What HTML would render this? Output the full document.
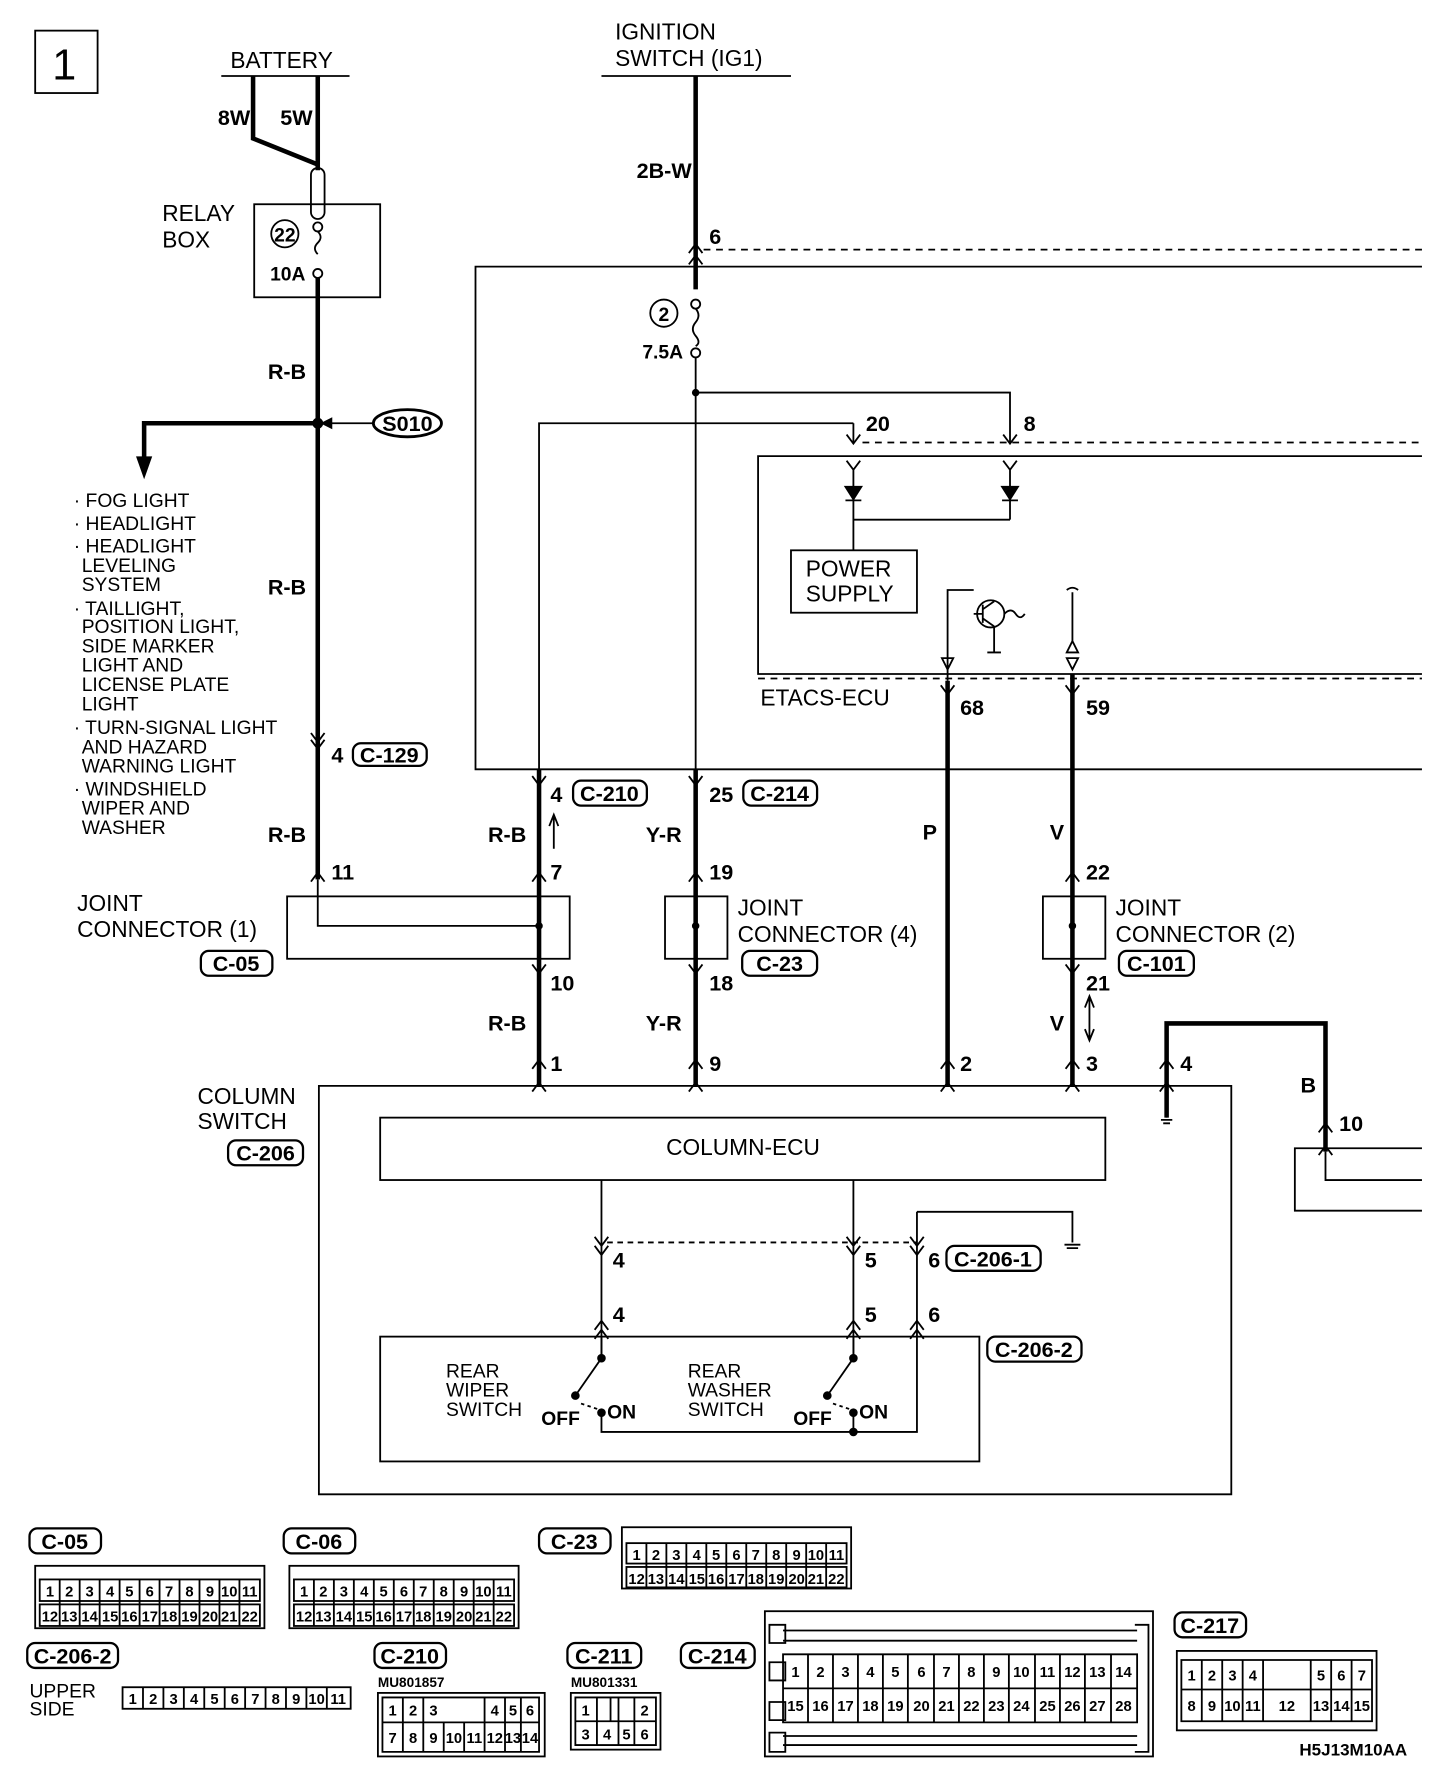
<!DOCTYPE html>
<html><head><meta charset="utf-8"><style>
html,body{margin:0;padding:0;background:#fff}
svg{display:block}
text{font-family:"Liberation Sans",sans-serif;fill:#000}
.b{font-weight:bold}
.t{font-size:20px}
.w{font-size:19px;font-weight:bold}
.s{font-size:17px}
.c{font-size:13px;font-weight:bold;text-anchor:middle}
</style></head><body>
<svg width="1456" height="1778" viewBox="0 0 1283 1567" preserveAspectRatio="none" xmlns="http://www.w3.org/2000/svg">
<g fill="none" stroke="#000" stroke-width="1.6">
<rect x="31" y="27" width="55" height="55"/>
<line x1="195" y1="67" x2="308" y2="67"/>
<line x1="530" y1="67" x2="697" y2="67"/>
<path d="M223,67 V122 L280,145 M280,67 V150" stroke-width="4"/>
<rect x="224" y="180" width="111" height="82"/>
<rect x="274" y="148" width="12" height="45" rx="6"/>
<circle cx="280" cy="200" r="4"/><path d="M280,204 q5,5 0,10 q-5,5 0,10"/><circle cx="280" cy="241" r="4"/>
<circle cx="251" cy="206" r="12"/>
<path d="M280,245 V775" stroke-width="4"/>
<path d="M280,373 H127 V405" stroke-width="4"/>
<path d="M121,403 L127,420 L133,403Z" fill="#000"/>
<ellipse cx="359" cy="373" rx="30" ry="12" stroke-width="2.5"/>
<path d="M329,373 H287"/><path d="M292,369 L284,373 L292,377Z" fill="#000"/>
<path d="M613,67 V255" stroke-width="4"/>
<path d="M620,220 H1253" stroke-dasharray="6,5"/>
<path d="M1253,235 H419 V678 H1253"/>
<circle cx="585" cy="276" r="12"/>
<circle cx="613" cy="268" r="4"/><path d="M613,272 q5,6 0,12 q-5,6 0,12 q5,6 0,9"/><circle cx="613" cy="311" r="4"/>
<path d="M613,315 V678"/>
<path d="M613,346 H890 V390 M752,373 H475 V678"/>
<path d="M752,373 V390"/>
<path d="M760,390 H1253" stroke-dasharray="6,5"/>
<path d="M1253,402 H668 V594 H1253"/>
<path d="M668,598 H1253" stroke-dasharray="6,5"/>
<path d="M746,406 L752,414 L758,406 M752,414 V458 M884,406 L890,414 L896,406 M890,414 V458 M752,458 H890 M752,458 V485"/>
<path d="M745,429 H759 L752,440Z M883,429 H897 L890,440Z" fill="#000"/>
<path d="M745,441 H759 M883,441 H897"/>
<rect x="697" y="485" width="111" height="55"/>
<path d="M835,600 V520 H858"/><circle cx="873" cy="541" r="12"/>
<path d="M866,533 V549 M858,541 H866 M866,537 L876,530 M866,545 L876,552 M885,541 q6,-6 10,0 q4,6 8,0"/>
<path d="M876,552 V575 M870,575 H882 M830,580 L835,590 L840,580Z M940,520 q5,-4 10,0 M945,522 V565 M940,575 L945,565 L950,575Z M940,580 L945,590 L950,580Z"/>
<path d="M835,600 V958 M945,594 V958 M475,678 V958 M613,678 V958" stroke-width="4"/>
<path d="M280,775 V816 H475"/>
<rect x="253" y="790" width="249" height="55"/>
<rect x="586" y="790" width="55" height="55"/>
<rect x="919" y="790" width="55" height="55"/>
<path d="M488,748 V720 M484,728 L488,718 L492,728"/>
<path d="M960,880 V915 M956,888 L960,878 L964,888 M956,907 L960,917 L964,907"/>
<path d="M274,646 L280,654 L286,646 M274,652 L280,660 L286,652 M607,223 L613,215 L619,223 M607,233 L613,225 L619,233 M469,684 L475,692 L481,684 M607,684 L613,692 L619,684 M829,604 L835,612 L841,604 M939,604 L945,612 L951,604 M746,383 L752,391 L758,383 M884,383 L890,391 L896,383 M469,777 L475,769 L481,777 M274,777 L280,769 L286,777 M607,777 L613,769 L619,777 M939,777 L945,769 L951,777 M469,850 L475,858 L481,850 M607,850 L613,858 L619,850 M939,850 L945,858 L951,850 M469,942 L475,934 L481,942 M607,942 L613,934 L619,942 M829,942 L835,934 L841,942 M939,942 L945,934 L951,942 M469,962 L475,954 L481,962 M607,962 L613,954 L619,962 M829,962 L835,954 L841,962 M939,962 L945,954 L951,962 M1022,942 L1028,934 L1034,942 M1022,962 L1028,954 L1034,962 M1162,998 L1168,990 L1174,998 M1162,1018 L1168,1010 L1174,1018"/>
<circle cx="475" cy="816" r="2.5" fill="#000"/><circle cx="613" cy="816" r="2.5" fill="#000"/><circle cx="945" cy="816" r="2.5" fill="#000"/>
<circle cx="280" cy="373" r="4" fill="#000"/><circle cx="613" cy="346" r="2.5" fill="#000"/>
<path d="M281,957 H1085 V1317 H281Z"/>
<rect x="335" y="985" width="639" height="55"/>
<path d="M1028,985 V902 H1168 V1015" stroke-width="4"/>
<path d="M1028,985 V955"/><path d="M1023,987 H1033 M1025,990 H1031"/>
<path d="M1253,1012 H1141 V1067 H1253 M1253,1040 H1168 V1015"/>
<path d="M530,1040 V1200 M752,1040 V1200 M808,1068 H945 V1095 M808,1068 V1262 H530 V1248"/>
<path d="M938,1097 H952 M940,1100 H950"/>
<path d="M535,1095 H808" stroke-dasharray="5,4"/>
<path d="M524,1090 L530,1098 L536,1090 M524,1098 L530,1106 L536,1098 M746,1090 L752,1098 L758,1090 M746,1098 L752,1106 L758,1098 M802,1090 L808,1098 L814,1090 M802,1098 L808,1106 L814,1098 M524,1172 L530,1164 L536,1172 M524,1180 L530,1172 L536,1180 M746,1172 L752,1164 L758,1172 M746,1180 L752,1172 L758,1180 M802,1172 L808,1164 L814,1172 M802,1180 L808,1172 L814,1180"/>
<rect x="335" y="1178" width="528" height="110"/>
<path d="M530,1178 V1197 L507,1230 M752,1178 V1197 L729,1230 M752,1248 V1262"/>
<path d="M512,1237 L530,1243 M734,1237 L752,1243" stroke-dasharray="3,3"/>
<circle cx="530" cy="1197" r="3" fill="#000"/><circle cx="507" cy="1230" r="3" fill="#000"/><circle cx="530" cy="1245" r="3" fill="#000"/>
<circle cx="752" cy="1197" r="3" fill="#000"/><circle cx="729" cy="1230" r="3" fill="#000"/><circle cx="752" cy="1245" r="3" fill="#000"/><circle cx="752" cy="1262" r="3" fill="#000"/>
<g stroke-width="2">
<rect x="311" y="655" width="65" height="20" rx="7"/>
<rect x="505" y="688" width="65" height="22" rx="7"/>
<rect x="655" y="688" width="65" height="22" rx="7"/>
<rect x="177" y="838" width="63" height="22" rx="7"/>
<rect x="654" y="838" width="66" height="22" rx="7"/>
<rect x="986" y="838" width="66" height="22" rx="7"/>
<rect x="201" y="1005" width="66" height="22" rx="7"/>
<rect x="834" y="1098" width="83" height="22" rx="7"/>
<rect x="870" y="1178" width="83" height="22" rx="7"/>
<rect x="26" y="1347" width="63" height="22" rx="7"/>
<rect x="250" y="1347" width="63" height="22" rx="7"/>
<rect x="475" y="1347" width="63" height="22" rx="7"/>
<rect x="24" y="1448" width="80" height="22" rx="7"/>
<rect x="330" y="1448" width="63" height="22" rx="7"/>
<rect x="500" y="1448" width="65" height="22" rx="7"/>
<rect x="600" y="1448" width="65" height="22" rx="7"/>
<rect x="1035" y="1421" width="63" height="22" rx="7"/>
</g>
<rect x="31" y="1380" width="202" height="55"/><rect x="35" y="1392" width="194" height="19"/><rect x="35" y="1414" width="194" height="19"/>
<path d="M52.6,1392V1433M70.2,1392V1433M87.8,1392V1433M105.4,1392V1433M123,1392V1433M140.6,1392V1433M158.2,1392V1433M175.8,1392V1433M193.4,1392V1433M211,1392V1433"/>
<rect x="255" y="1380" width="202" height="55"/><rect x="259" y="1392" width="194" height="19"/><rect x="259" y="1414" width="194" height="19"/>
<path d="M276.6,1392V1433M294.2,1392V1433M311.8,1392V1433M329.4,1392V1433M347,1392V1433M364.6,1392V1433M382.2,1392V1433M399.8,1392V1433M417.4,1392V1433M435,1392V1433"/>
<rect x="548" y="1346" width="202" height="54"/><rect x="552" y="1360" width="194" height="18"/><rect x="552" y="1381" width="194" height="18"/>
<path d="M569.6,1360V1399M587.2,1360V1399M604.8,1360V1399M622.4,1360V1399M640,1360V1399M657.6,1360V1399M675.2,1360V1399M692.8,1360V1399M710.4,1360V1399M728,1360V1399"/>
<rect x="108" y="1487" width="201" height="19"/>
<path d="M126,1487V1506M144,1487V1506M162,1487V1506M180,1487V1506M198,1487V1506M216,1487V1506M234,1487V1506M252,1487V1506M270,1487V1506M288,1487V1506"/>
<rect x="333" y="1492" width="147" height="56"/><path d="M337,1496H475V1544H337Z M337,1518H475 M355,1496V1544 M373,1496V1544 M391,1518V1544 M409,1518V1544 M427,1496V1544 M445,1496V1544 M459,1496V1544"/>
<rect x="503" y="1492" width="79" height="50"/><path d="M507,1496H578V1538H507Z M507,1517H578 M526,1517V1538 M545,1517V1538 M559,1496V1538 M526,1496V1517 M538,1496V1517 M545,1496V1517"/>
<rect x="674" y="1420" width="342" height="128"/>
<path d="M690,1458H1002V1518H690Z M690,1488H1002 M712,1458V1518M734,1458V1518M756,1458V1518M778,1458V1518M800,1458V1518M823,1458V1518M845,1458V1518M867,1458V1518M889,1458V1518M912,1458V1518M934,1458V1518M956,1458V1518M979,1458V1518"/>
<path d="M690,1437H1002 M690,1446H1002 M690,1530H1002 M690,1538H1002 M678,1432H692V1448H678Z M678,1465H692V1481H678Z M678,1500H692V1516H678Z M678,1527H692V1544H678Z M1000,1432H1012V1544H1000"/>
<rect x="1037" y="1455" width="176" height="70"/><path d="M1041,1463H1209V1517H1041Z M1041,1489H1209 M1059,1463V1517 M1077,1463V1517 M1095,1463V1517 M1113,1463V1517 M1155,1463V1517 M1173,1463V1517 M1191,1463V1517"/>
</g>
<text x="46" y="70" style="font-size:38px">1</text>
<text x="203" y="60" class="t">BATTERY</text>
<text x="542" y="35" class="t">IGNITION</text>
<text x="542" y="58" class="t">SWITCH (IG1)</text>
<text x="192" y="110" class="w">8W</text><text x="247" y="110" class="w">5W</text>
<text x="143" y="195" class="t">RELAY</text><text x="143" y="218" class="t">BOX</text>
<text x="251" y="213" class="s b" text-anchor="middle">22</text>
<text x="238" y="247" class="s b">10A</text>
<text x="561" y="157" class="w">2B-W</text>
<text x="625" y="215" class="w">6</text>
<text x="585" y="283" class="s b" text-anchor="middle">2</text>
<text x="566" y="316" class="s b">7.5A</text>
<text x="236" y="334" class="w">R-B</text><text x="236" y="524" class="w">R-B</text><text x="236" y="742" class="w">R-B</text>
<text x="359" y="380" class="w" text-anchor="middle">S010</text>
<g class="s"><text x="65" y="447">· FOG LIGHT</text><text x="65" y="467">· HEADLIGHT</text><text x="65" y="487">· HEADLIGHT</text><text x="72" y="504">LEVELING</text><text x="72" y="521">SYSTEM</text><text x="65" y="542">· TAILLIGHT,</text><text x="72" y="558">POSITION LIGHT,</text><text x="72" y="575">SIDE MARKER</text><text x="72" y="592">LIGHT AND</text><text x="72" y="609">LICENSE PLATE</text><text x="72" y="626">LIGHT</text><text x="65" y="647">· TURN-SIGNAL LIGHT</text><text x="72" y="664">AND HAZARD</text><text x="72" y="681">WARNING LIGHT</text><text x="65" y="701">· WINDSHIELD</text><text x="72" y="718">WIPER AND</text><text x="72" y="735">WASHER</text></g>
<text x="292" y="672" class="w">4</text><text x="343" y="672" class="w" text-anchor="middle">C-129</text>
<text x="763" y="380" class="w">20</text><text x="902" y="380" class="w">8</text>
<text x="710" y="508" class="t">POWER</text><text x="710" y="530" class="t">SUPPLY</text>
<text x="670" y="622" class="t">ETACS-ECU</text>
<text x="846" y="630" class="w">68</text><text x="957" y="630" class="w">59</text>
<text x="485" y="707" class="w">4</text><text x="537" y="706" class="w" text-anchor="middle">C-210</text>
<text x="625" y="707" class="w">25</text><text x="687" y="706" class="w" text-anchor="middle">C-214</text>
<text x="430" y="742" class="w">R-B</text><text x="569" y="742" class="w">Y-R</text><text x="813" y="740" class="w">P</text><text x="925" y="740" class="w">V</text>
<text x="292" y="775" class="w">11</text><text x="485" y="775" class="w">7</text><text x="625" y="775" class="w">19</text><text x="957" y="775" class="w">22</text>
<text x="68" y="803" class="t">JOINT</text><text x="68" y="826" class="t">CONNECTOR (1)</text>
<text x="208" y="856" class="w" text-anchor="middle">C-05</text>
<text x="650" y="807" class="t">JOINT</text><text x="650" y="830" class="t">CONNECTOR (4)</text>
<text x="687" y="856" class="w" text-anchor="middle">C-23</text>
<text x="983" y="807" class="t">JOINT</text><text x="983" y="830" class="t">CONNECTOR (2)</text>
<text x="1019" y="856" class="w" text-anchor="middle">C-101</text>
<text x="485" y="873" class="w">10</text><text x="625" y="873" class="w">18</text><text x="957" y="873" class="w">21</text>
<text x="430" y="908" class="w">R-B</text><text x="569" y="908" class="w">Y-R</text><text x="925" y="908" class="w">V</text>
<text x="485" y="944" class="w">1</text><text x="625" y="944" class="w">9</text><text x="846" y="944" class="w">2</text><text x="957" y="944" class="w">3</text><text x="1040" y="944" class="w">4</text>
<text x="1146" y="963" class="w">B</text><text x="1180" y="997" class="w">10</text>
<text x="174" y="973" class="t">COLUMN</text><text x="174" y="995" class="t">SWITCH</text>
<text x="234" y="1023" class="w" text-anchor="middle">C-206</text>
<text x="587" y="1018" class="t">COLUMN-ECU</text>
<text x="540" y="1117" class="w">4</text><text x="762" y="1117" class="w">5</text><text x="818" y="1117" class="w">6</text>
<text x="875" y="1116" class="w" text-anchor="middle">C-206-1</text>
<text x="540" y="1165" class="w">4</text><text x="762" y="1165" class="w">5</text><text x="818" y="1165" class="w">6</text>
<text x="911" y="1196" class="w" text-anchor="middle">C-206-2</text>
<g class="s"><text x="393" y="1214">REAR</text><text x="393" y="1231">WIPER</text><text x="393" y="1248">SWITCH</text><text x="606" y="1214">REAR</text><text x="606" y="1231">WASHER</text><text x="606" y="1248">SWITCH</text></g>
<text x="477" y="1256" class="s b">OFF</text><text x="535" y="1250" class="s b">ON</text>
<text x="699" y="1256" class="s b">OFF</text><text x="757" y="1250" class="s b">ON</text>
<text x="57" y="1365" class="w" text-anchor="middle">C-05</text><text x="281" y="1365" class="w" text-anchor="middle">C-06</text><text x="506" y="1365" class="w" text-anchor="middle">C-23</text>
<text x="64" y="1466" class="w" text-anchor="middle">C-206-2</text><text x="361" y="1466" class="w" text-anchor="middle">C-210</text><text x="532" y="1466" class="w" text-anchor="middle">C-211</text><text x="632" y="1466" class="w" text-anchor="middle">C-214</text><text x="1066" y="1439" class="w" text-anchor="middle">C-217</text>
<text x="26" y="1496" class="s">UPPER</text><text x="26" y="1512" class="s">SIDE</text>
<text x="333" y="1487" style="font-size:12px;font-weight:bold">MU801857</text><text x="503" y="1487" style="font-size:12px;font-weight:bold">MU801331</text>
<text x="1145" y="1547" style="font-size:15px;font-weight:bold">H5J13M10AA</text>
<g class="c">
<text x="44" y="1407">1</text><text x="61" y="1407">2</text><text x="79" y="1407">3</text><text x="97" y="1407">4</text><text x="114" y="1407">5</text><text x="132" y="1407">6</text><text x="149" y="1407">7</text><text x="167" y="1407">8</text><text x="185" y="1407">9</text><text x="202" y="1407">10</text><text x="220" y="1407">11</text>
<text x="44" y="1429">12</text><text x="61" y="1429">13</text><text x="79" y="1429">14</text><text x="97" y="1429">15</text><text x="114" y="1429">16</text><text x="132" y="1429">17</text><text x="149" y="1429">18</text><text x="167" y="1429">19</text><text x="185" y="1429">20</text><text x="202" y="1429">21</text><text x="220" y="1429">22</text>
<text x="268" y="1407">1</text><text x="285" y="1407">2</text><text x="303" y="1407">3</text><text x="321" y="1407">4</text><text x="338" y="1407">5</text><text x="356" y="1407">6</text><text x="373" y="1407">7</text><text x="391" y="1407">8</text><text x="409" y="1407">9</text><text x="426" y="1407">10</text><text x="444" y="1407">11</text>
<text x="268" y="1429">12</text><text x="285" y="1429">13</text><text x="303" y="1429">14</text><text x="321" y="1429">15</text><text x="338" y="1429">16</text><text x="356" y="1429">17</text><text x="373" y="1429">18</text><text x="391" y="1429">19</text><text x="409" y="1429">20</text><text x="426" y="1429">21</text><text x="444" y="1429">22</text>
<text x="561" y="1375">1</text><text x="578" y="1375">2</text><text x="596" y="1375">3</text><text x="614" y="1375">4</text><text x="631" y="1375">5</text><text x="649" y="1375">6</text><text x="666" y="1375">7</text><text x="684" y="1375">8</text><text x="702" y="1375">9</text><text x="719" y="1375">10</text><text x="737" y="1375">11</text>
<text x="561" y="1396">12</text><text x="578" y="1396">13</text><text x="596" y="1396">14</text><text x="614" y="1396">15</text><text x="631" y="1396">16</text><text x="649" y="1396">17</text><text x="666" y="1396">18</text><text x="684" y="1396">19</text><text x="702" y="1396">20</text><text x="719" y="1396">21</text><text x="737" y="1396">22</text>
<text x="117" y="1502">1</text><text x="135" y="1502">2</text><text x="153" y="1502">3</text><text x="171" y="1502">4</text><text x="189" y="1502">5</text><text x="207" y="1502">6</text><text x="225" y="1502">7</text><text x="243" y="1502">8</text><text x="261" y="1502">9</text><text x="279" y="1502">10</text><text x="298" y="1502">11</text>
<text x="346" y="1512">1</text><text x="364" y="1512">2</text><text x="382" y="1512">3</text><text x="436" y="1512">4</text><text x="452" y="1512">5</text><text x="467" y="1512">6</text>
<text x="346" y="1536">7</text><text x="364" y="1536">8</text><text x="382" y="1536">9</text><text x="400" y="1536">10</text><text x="418" y="1536">11</text><text x="436" y="1536">12</text><text x="452" y="1536">13</text><text x="467" y="1536">14</text>
<text x="516" y="1512">1</text><text x="568" y="1512">2</text><text x="516" y="1533">3</text><text x="535" y="1533">4</text><text x="552" y="1533">5</text><text x="568" y="1533">6</text>
<text x="701" y="1478">1</text><text x="723" y="1478">2</text><text x="745" y="1478">3</text><text x="767" y="1478">4</text><text x="789" y="1478">5</text><text x="812" y="1478">6</text><text x="834" y="1478">7</text><text x="856" y="1478">8</text><text x="878" y="1478">9</text><text x="900" y="1478">10</text><text x="923" y="1478">11</text><text x="945" y="1478">12</text><text x="967" y="1478">13</text><text x="990" y="1478">14</text>
<text x="701" y="1508">15</text><text x="723" y="1508">16</text><text x="745" y="1508">17</text><text x="767" y="1508">18</text><text x="789" y="1508">19</text><text x="812" y="1508">20</text><text x="834" y="1508">21</text><text x="856" y="1508">22</text><text x="878" y="1508">23</text><text x="900" y="1508">24</text><text x="923" y="1508">25</text><text x="945" y="1508">26</text><text x="967" y="1508">27</text><text x="990" y="1508">28</text>
<text x="1050" y="1481">1</text><text x="1068" y="1481">2</text><text x="1086" y="1481">3</text><text x="1104" y="1481">4</text><text x="1164" y="1481">5</text><text x="1182" y="1481">6</text><text x="1200" y="1481">7</text>
<text x="1050" y="1508">8</text><text x="1068" y="1508">9</text><text x="1086" y="1508">10</text><text x="1104" y="1508">11</text><text x="1134" y="1508">12</text><text x="1164" y="1508">13</text><text x="1182" y="1508">14</text><text x="1200" y="1508">15</text>
</g>
</svg>
</body></html>
